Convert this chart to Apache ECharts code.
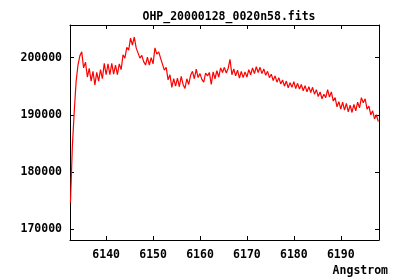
<!DOCTYPE html>
<html><head><meta charset="utf-8">
<script src="https://cdn.jsdelivr.net/npm/echarts@6/dist/echarts.min.js"></script>
<style>html,body{margin:0;padding:0;background:#fff}#c{width:400px;height:280px}</style>
</head><body><div id="c"></div>
<script>
var titleText = "OHP_20000128_0020n58.fits";
var xName = "Angstrom";
var xTicks = [6140, 6150, 6160, 6170, 6180, 6190];
var yTicks = [170000, 180000, 190000, 200000];
var wavelength = [
6132.4,6132.8,6133.2,6133.6,6134.0,6134.4,6134.8,6135.2,6135.6,6136.0,
6136.4,6136.8,6137.2,6137.6,6138.0,6138.4,6138.8,6139.2,6139.6,6140.0,
6140.4,6140.8,6141.2,6141.6,6142.0,6142.4,6142.8,6143.2,6143.6,6144.0,
6144.4,6144.8,6145.2,6145.6,6146.0,6146.4,6146.8,6147.2,6147.6,6148.0,
6148.4,6148.8,6149.2,6149.6,6150.0,6150.4,6150.8,6151.2,6151.6,6152.0,
6152.4,6152.8,6153.2,6153.6,6154.0,6154.4,6154.8,6155.2,6155.6,6156.0,
6156.4,6156.8,6157.2,6157.6,6158.0,6158.4,6158.8,6159.2,6159.6,6160.0,
6160.4,6160.8,6161.2,6161.6,6162.0,6162.4,6162.8,6163.2,6163.6,6164.0,
6164.4,6164.8,6165.2,6165.6,6166.0,6166.4,6166.8,6167.2,6167.6,6168.0,
6168.4,6168.8,6169.2,6169.6,6170.0,6170.4,6170.8,6171.2,6171.6,6172.0,
6172.4,6172.8,6173.2,6173.6,6174.0,6174.4,6174.8,6175.2,6175.6,6176.0,
6176.4,6176.8,6177.2,6177.6,6178.0,6178.4,6178.8,6179.2,6179.6,6180.0,
6180.4,6180.8,6181.2,6181.6,6182.0,6182.4,6182.8,6183.2,6183.6,6184.0,
6184.4,6184.8,6185.2,6185.6,6186.0,6186.4,6186.8,6187.2,6187.6,6188.0,
6188.4,6188.8,6189.2,6189.6,6190.0,6190.4,6190.8,6191.2,6191.6,6192.0,
6192.4,6192.8,6193.2,6193.6,6194.0,6194.4,6194.8,6195.2,6195.6,6196.0,
6196.4,6196.8,6197.2,6197.6,6198.0
];
var flux = [
174600,184500,190500,195800,198700,200300,201000,198200,199200,196600,
198100,195900,197600,195200,197400,195900,197900,196300,199000,197000,
198900,197000,199000,197100,198700,197000,198900,197900,200500,199900,
201800,201300,203400,202200,203600,201700,201900,199900,200400,199300,
198700,200100,198700,200000,198900,201700,200600,201000,199900,199600,
197800,198300,196100,197000,194800,196300,195000,196400,194900,196700,
195300,194600,196300,195300,196900,197600,196300,198000,196500,197200,
196200,195700,197300,196800,197400,195300,197500,196300,197700,196600,
198200,197400,198300,197300,198100,199700,197000,198000,196800,197800,
196400,197600,196500,197500,196600,197900,197000,198200,197200,198400,
197400,198300,197200,198000,196900,197600,196500,197100,196000,196800,
195700,196500,195400,196100,195000,195900,194700,195600,194800,195800,
194600,195500,194500,195300,194200,195100,194000,194900,193900,194800,
193600,194400,193200,194000,192800,193600,193000,194400,193100,194000,
192400,193000,191400,192300,191000,192200,190800,192000,190500,191700,
190400,191800,190700,192200,191200,193000,192100,192800,191000,191500,
190000,190700,189300,190000,188800
];

var FONT = "DejaVu Sans Mono";
var data = wavelength.map(function (w, i) { return [w, flux[i]]; });
var xMin = 6132.3, xMax = 6198.15, yMin = 168100, yMax = 205700;
var tickStyle = { show: true, inside: true, length: 4, lineStyle: { color: '#000', width: 1 } };
var lbl = { fontFamily: FONT, fontWeight: 'bold', fontSize: 11.5, color: '#000' };
var plain = function (v) { return String(Math.round(v)); };

var chart = echarts.init(document.getElementById('c'), null, { renderer: 'canvas' });
chart.setOption({
  animation: false,
  backgroundColor: '#fff',
  title: {
    text: titleText, left: 224, top: 6, textAlign: 'center',
    textStyle: { fontFamily: FONT, fontWeight: 'bold', fontSize: 11.5, color: '#000' }
  },
  grid: { left: 70, right: 21, top: 25, bottom: 40, containLabel: false },
  xAxis: [{
    type: 'value', min: xMin, max: xMax, position: 'bottom',
    axisLine: { show: true, onZero: false, lineStyle: { color: '#000', width: 1 } },
    axisTick: Object.assign({ customValues: xTicks }, tickStyle),
    axisLabel: Object.assign({ customValues: xTicks, margin: 9, formatter: plain }, lbl),
    splitLine: { show: false }
  }, {
    type: 'value', min: xMin, max: xMax, position: 'top',
    axisLine: { show: true, onZero: false, lineStyle: { color: '#000', width: 1 } },
    axisTick: Object.assign({ customValues: xTicks }, tickStyle),
    axisLabel: { show: false }, splitLine: { show: false }
  }],
  yAxis: [{
    type: 'value', min: yMin, max: yMax, position: 'left',
    axisLine: { show: true, onZero: false, lineStyle: { color: '#000', width: 1 } },
    axisTick: Object.assign({ customValues: yTicks }, tickStyle),
    axisLabel: Object.assign({ customValues: yTicks, margin: 8, formatter: plain }, lbl),
    splitLine: { show: false }
  }, {
    type: 'value', min: yMin, max: yMax, position: 'right',
    axisLine: { show: true, onZero: false, lineStyle: { color: '#000', width: 1 } },
    axisTick: Object.assign({ customValues: yTicks }, tickStyle),
    axisLabel: { show: false }, splitLine: { show: false }
  }],
  graphic: [{
    type: 'text', right: 12, top: 265,
    style: { text: xName, fontFamily: FONT, fontWeight: 'bold', fontSize: 11.5, fill: '#000' }
  }],
  series: [{
    type: 'line', data: data, xAxisIndex: 0, yAxisIndex: 0,
    showSymbol: false, symbol: 'none',
    lineStyle: { color: '#ff0000', width: 1.2 },
    emphasis: { disabled: true }
  }]
});
</script></body></html>
